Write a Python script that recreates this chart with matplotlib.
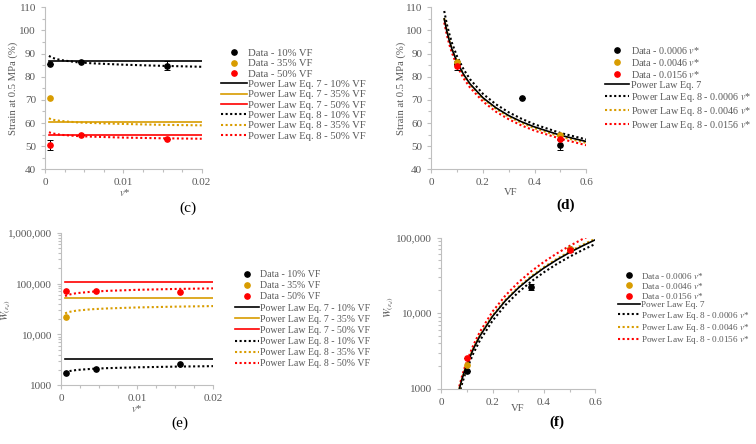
import matplotlib
matplotlib.use('Agg')
import matplotlib.pyplot as plt
from matplotlib.lines import Line2D
from matplotlib.ticker import MultipleLocator, LogLocator, NullFormatter

plt.rcParams['font.family'] = ['Liberation Serif', 'DejaVu Serif']
plt.rcParams['mathtext.fontset'] = 'stix'

#%% data

# measured points vs v* (panels c, e), one set per volume fraction
vstar_10 = [0.0006, 0.0046, 0.0156]
vstar_35 = [0.0006]
vstar_50 = [0.0006, 0.0046, 0.0156]
strain_10 = [85.6, 86.3, 84.7]
strain_10_err = [0.0, 0.0, 2.0]
strain_35 = [71.0]
strain_50 = [50.5, 55.0, 53.0]
strain_50_err = [2.0, 0.0, 0.0]
W_10 = [1740, 2050, 2580]
W_35 = [22300]
W_50 = [71000, 70000, 69000]

# measured points vs VF (panels d, f), one set per v*
vf_0006 = [0.1, 0.35, 0.5]
vf_0046 = [0.1, 0.5]
vf_0156 = [0.1, 0.5]
strain_0006 = [85.6, 71.0, 50.5]
strain_0006_err = [0.0, 0.0, 2.0]
strain_0046 = [86.3, 55.0]
strain_0156 = [84.7, 53.0]
strain_0156_err = [2.0, 0.0]
W_0006 = [1740, 22300, 71000]
W_0006_err = [0, 2300, 0]
W_0046 = [2050, 70000]
W_0156 = [2580, 69000]
W_0156_err = [0, 5000]

# Eq. 7 fits vs v* (flat)
v_eq7 = [0.0005, 0.02]
eq7_strain_10 = [86.7, 86.7]
eq7_strain_35 = [60.6, 60.6]
eq7_strain_50 = [54.7, 54.7]
eq7_W_10 = [3350, 3350]
eq7_W_35 = [51000, 51000]
eq7_W_50 = [107000, 107000]

# Eq. 8 fits vs v*
v_fit = [0.0005, 0.001, 0.002, 0.004, 0.006, 0.01, 0.015, 0.02]
eq8_strain_10 = [89.0, 88.1, 87.2, 86.3, 85.8, 85.2, 84.7, 84.3]
eq8_strain_35 = [62.0, 61.4, 60.9, 60.3, 60.0, 59.6, 59.2, 59.0]
eq8_strain_50 = [56.0, 55.5, 54.9, 54.4, 54.1, 53.7, 53.4, 53.2]
eq8_W_10 = [1800, 1897, 1998, 2106, 2173, 2257, 2329, 2380]
eq8_W_35 = [26000, 27650, 29400, 31280, 32420, 33930, 35180, 36100]
eq8_W_50 = [56800, 60650, 64750, 69130, 71850, 75370, 78330, 80490]

# fits vs VF, strain (panel d)
vf_fit_d = [0.05, 0.06, 0.07, 0.08, 0.1, 0.125, 0.15, 0.2, 0.25, 0.3, 0.35, 0.4, 0.5, 0.6]
eq7_strain_vf = [105.0, 99.7, 95.5, 91.9, 86.3, 81.0, 76.9, 70.9, 66.6, 63.2, 60.5, 58.3, 54.7, 52.0]
eq8_strain_0006 = [108.4, 102.8, 98.4, 94.6, 88.7, 83.2, 78.9, 72.6, 68.1, 64.6, 61.8, 59.4, 55.7, 52.9]
eq8_strain_0046 = [105.3, 99.9, 95.5, 91.9, 86.2, 80.8, 76.7, 70.5, 66.1, 62.7, 60.0, 57.7, 54.1, 51.4]
eq8_strain_0156 = [103.4, 98.1, 93.8, 90.3, 84.6, 79.3, 75.3, 69.3, 64.9, 61.6, 58.9, 56.7, 53.2, 50.4]

# fits vs VF, W (panel f)
vf_fit_f = [0.07, 0.08, 0.09, 0.1, 0.125, 0.15, 0.2, 0.25, 0.3, 0.35, 0.4, 0.45, 0.5, 0.55, 0.6]
eq7_W_vf = [986, 1309, 1680, 2100, 3370, 4960, 9120, 14660, 21560, 29900, 39700, 50900, 63700, 77900, 93800]
eq8_W_0006 = [857, 1139, 1463, 1830, 2941, 4333, 7988, 12840, 18920, 26260, 34880, 44800, 56030, 68630, 82590]
eq8_W_0046 = [996, 1324, 1702, 2130, 3426, 5052, 9323, 14995, 22110, 30715, 40810, 52440, 65650, 80430, 96810]
eq8_W_0156 = [1071, 1433, 1852, 2330, 3789, 5640, 10557, 17174, 25560, 35765, 47835, 61860, 77820, 95760, 115800]

# legend texts, tick labels
labels_vf = ['Data - 10% VF', 'Data - 35% VF', 'Data - 50% VF',
             'Power Law Eq. 7 - 10% VF', 'Power Law Eq. 7 - 35% VF', 'Power Law Eq. 7 - 50% VF',
             'Power Law Eq. 8 - 10% VF', 'Power Law Eq. 8 - 35% VF', 'Power Law Eq. 8 - 50% VF']
labels_vs = ['Data - 0.0006 $v$*', 'Data - 0.0046 $v$*', 'Data - 0.0156 $v$*',
             'Power Law Eq. 7',
             'Power Law Eq. 8 - 0.0006 $v$*', 'Power Law Eq. 8 - 0.0046 $v$*',
             'Power Law Eq. 8 - 0.0156 $v$*']
vstar_ticks = [0, 0.01, 0.02]
vstar_ticklabels = ['0', '0.01', '0.02']
vf_ticks = [0, 0.2, 0.4, 0.6]
vf_ticklabels = ['0', '0.2', '0.4', '0.6']
e_yticks = [1000, 10000, 100000, 1000000]
e_yticklabels = ['1000', '10,000', '100,000', '1,000,000']
f_yticks = [1000, 10000, 100000]
f_yticklabels = ['1000', '10,000', '100,000']

#%% styling
BLK = '#000000'
ORG = '#D89C00'
RED = '#FF0000'
GREY = '#595959'
SPINE = '#BFBFBF'
cols = [BLK, ORG, RED]
DOT = (0, (1, 1.2))
MS = 3.8
W_px = 756
H_px = 444


def fx(px):
    return px / W_px


def fy(py):
    return 1 - py / H_px


def style_axes(ax):
    for s in ['top', 'right']:
        ax.spines[s].set_visible(False)
    for s in ['left', 'bottom']:
        ax.spines[s].set_color(SPINE)
        ax.spines[s].set_linewidth(0.8)
    ax.tick_params(which='both', colors=SPINE, labelcolor=GREY, labelsize=8,
                   direction='out', width=0.8)
    ax.tick_params(which='major', length=3)
    ax.tick_params(which='minor', length=2)


def data_pts(ax, x, y, c, err=None):
    if err is not None:
        ax.errorbar(x, y, yerr=err, fmt='none', ecolor=c if c != RED else BLK,
                    elinewidth=0.7, capsize=2, capthick=0.7, zorder=3)
    ax.plot(x, y, 'o', color=c, ms=MS, zorder=4, linestyle='none')


def make_legend(ax, labels, n_data, n_solid, dot_cols, fs, x0, y0, ls):
    hs = []
    for c in cols[:n_data]:
        hs.append(Line2D([], [], marker='o', color=c, ms=MS, linestyle='none'))
    for c in cols[:n_solid]:
        hs.append(Line2D([], [], color=c, lw=1.2))
    for c in dot_cols:
        hs.append(Line2D([], [], color=c, lw=1.5, linestyle=DOT))
    leg = ax.legend(hs, labels, loc='upper left', bbox_to_anchor=(x0, y0),
                    bbox_transform=fig.transFigure, frameon=False, fontsize=fs,
                    borderpad=0, borderaxespad=0, handlelength=2.4,
                    handletextpad=0.15, labelspacing=ls)
    for t in leg.get_texts():
        t.set_color(GREY)


fig = plt.figure(figsize=(7.56, 4.44), dpi=100)

#%% (c) strain vs v*
ax = fig.add_axes([fx(45), fy(169.3), fx(156.7), (169.3 - 7.3) / H_px])
style_axes(ax)
for y, c in zip([eq7_strain_10, eq7_strain_35, eq7_strain_50], cols):
    ax.plot(v_eq7, y, color=c, lw=1.2)
for y, c in zip([eq8_strain_10, eq8_strain_35, eq8_strain_50], cols):
    ax.plot(v_fit, y, color=c, lw=1.5, linestyle=DOT)
data_pts(ax, vstar_10, strain_10, BLK, strain_10_err)
data_pts(ax, vstar_35, strain_35, ORG)
data_pts(ax, vstar_50, strain_50, RED, strain_50_err)
ax.set_xlim(0, 0.02)
ax.set_ylim(40, 110)
ax.set_xticks(vstar_ticks, vstar_ticklabels)
ax.xaxis.set_minor_locator(MultipleLocator(0.0025))
ax.yaxis.set_major_locator(MultipleLocator(10))
ax.yaxis.set_minor_locator(MultipleLocator(5))
make_legend(ax, labels_vf, 3, 3, cols, 7.7, fx(221), fy(48.5), 0.08)

#%% (d) strain vs VF
ax = fig.add_axes([fx(431.3), fy(169.3), fx(155), (169.3 - 7.3) / H_px])
style_axes(ax)
ax.plot(vf_fit_d, eq8_strain_0006, color=BLK, lw=1.5, linestyle=DOT)
ax.plot(vf_fit_d, eq8_strain_0046, color=ORG, lw=1.5, linestyle=DOT)
ax.plot(vf_fit_d, eq8_strain_0156, color=RED, lw=1.5, linestyle=DOT)
ax.plot(vf_fit_d, eq7_strain_vf, color=BLK, lw=1.2)
data_pts(ax, vf_0006, strain_0006, BLK, strain_0006_err)
data_pts(ax, vf_0046, strain_0046, ORG)
data_pts(ax, vf_0156, strain_0156, RED, strain_0156_err)
ax.set_xlim(0, 0.6)
ax.set_ylim(40, 110)
ax.set_xticks(vf_ticks, vf_ticklabels)
ax.xaxis.set_minor_locator(MultipleLocator(0.1))
ax.yaxis.set_major_locator(MultipleLocator(10))
ax.yaxis.set_minor_locator(MultipleLocator(5))
make_legend(ax, labels_vs, 3, 1, cols, 7.3, fx(605), fy(44.5), 0.1)

#%% (e) W vs v*
ax = fig.add_axes([fx(61.3), fy(385.3), fx(152), (385.3 - 232.7) / H_px])
style_axes(ax)
for y, c in zip([eq7_W_10, eq7_W_35, eq7_W_50], cols):
    ax.plot(v_eq7, y, color=c, lw=1.2)
for y, c in zip([eq8_W_10, eq8_W_35, eq8_W_50], cols):
    ax.plot(v_fit, y, color=c, lw=1.5, linestyle=DOT)
data_pts(ax, vstar_10, W_10, BLK)
data_pts(ax, vstar_35, W_35, ORG)
data_pts(ax, vstar_50, W_50, RED)
ax.set_yscale('log')
ax.set_xlim(0, 0.02)
ax.set_ylim(1000, 1000000)
ax.set_xticks(vstar_ticks, vstar_ticklabels)
ax.xaxis.set_minor_locator(MultipleLocator(0.0025))
ax.set_yticks(e_yticks, e_yticklabels)
ax.yaxis.set_minor_locator(LogLocator(base=10, subs=range(2, 10)))
ax.yaxis.set_minor_formatter(NullFormatter())
make_legend(ax, labels_vf, 3, 3, cols, 7.1, fx(235), fy(270), 0.22)

#%% (f) W vs VF
ax = fig.add_axes([fx(441.3), fy(388.7), fx(154), (388.7 - 237.7) / H_px])
style_axes(ax)
ax.plot(vf_fit_f, eq8_W_0006, color=BLK, lw=1.5, linestyle=DOT)
ax.plot(vf_fit_f, eq8_W_0046, color=ORG, lw=1.5, linestyle=DOT)
ax.plot(vf_fit_f, eq8_W_0156, color=RED, lw=1.5, linestyle=DOT)
ax.plot(vf_fit_f, eq7_W_vf, color=BLK, lw=1.2)
data_pts(ax, vf_0006, W_0006, BLK, W_0006_err)
data_pts(ax, vf_0046, W_0046, ORG)
data_pts(ax, vf_0156, W_0156, RED, W_0156_err)
ax.set_yscale('log')
ax.set_xlim(0, 0.6)
ax.set_ylim(1000, 100000)
ax.set_xticks(vf_ticks, vf_ticklabels)
ax.xaxis.set_minor_locator(MultipleLocator(0.1))
ax.set_yticks(f_yticks, f_yticklabels)
ax.yaxis.set_minor_locator(LogLocator(base=10, subs=range(2, 10)))
ax.yaxis.set_minor_formatter(NullFormatter())
make_legend(ax, labels_vs, 3, 1, cols, 6.6, fx(618), fy(270.5), 0.02)

#%% axis titles and panel letters
lab = dict(color=GREY, fontsize=7.7, ha='center', va='center')
fig.text(fx(12.7), fy(88), 'Strain at 0.5 MPa (%)', rotation=90, **lab)
fig.text(fx(400.7), fy(88), 'Strain at 0.5 MPa (%)', rotation=90, **lab)
fig.text(fx(6.7), fy(310), r'$W_{(\varepsilon_d)}$', rotation=90, **lab)
fig.text(fx(389.7), fy(307), r'$W_{(\varepsilon_d)}$', rotation=90, **lab)
fig.text(fx(125), fy(192), '$v$*', **lab)
fig.text(fx(511), fy(192), 'VF', **lab)
fig.text(fx(137), fy(408.7), '$v$*', **lab)
fig.text(fx(518), fy(408.7), 'VF', **lab)

pan = dict(color='black', fontsize=11, ha='center', va='center')
fig.text(fx(188), fy(208), '(c)', **pan)
fig.text(fx(566), fy(205), '(d)', fontweight='bold', **pan)
fig.text(fx(180), fy(423.7), '(e)', **pan)
fig.text(fx(557), fy(422), '(f)', fontweight='bold', **pan)

fig.savefig('out.png', dpi=100)
